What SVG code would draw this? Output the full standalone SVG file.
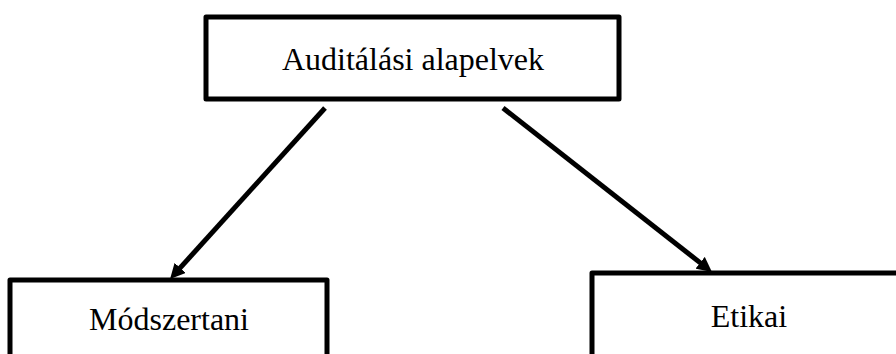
<svg xmlns="http://www.w3.org/2000/svg" width="896" height="354" viewBox="0 0 896 354">
<style>
.box{fill:#fff;stroke:#000;stroke-width:5;stroke-linejoin:round}
.lbl{font-family:'Liberation Serif','Times New Roman',serif;font-size:32px;fill:#000;text-anchor:middle}
.conn{stroke:#000;stroke-width:5;fill:none}
</style>
<defs>
<marker id="ah" viewBox="0 0 10 10" refX="4.7" refY="5" markerWidth="3" markerHeight="3" orient="auto" markerUnits="strokeWidth">
<path d="M0,0 L10,5 L0,10 z" fill="#000"/>
</marker>
</defs>
<g id="node-top">
<rect class="box" x="206" y="17" width="413" height="82"/>
<text class="lbl" x="413" y="70">Auditálási alapelvek</text>
</g>
<g id="node-left">
<rect class="box" x="10" y="280" width="317" height="100"/>
<text class="lbl" x="169" y="330">Módszertani</text>
</g>
<g id="node-right">
<rect class="box" x="592" y="273" width="320" height="100"/>
<text class="lbl" x="749" y="327">Etikai</text>
</g>
<g id="connectors">
<line class="conn" x1="325" y1="108" x2="175.4" y2="273.1" marker-end="url(#ah)"/>
<line class="conn" x1="503" y1="108" x2="705.7" y2="267.1" marker-end="url(#ah)"/>
</g>
</svg>
